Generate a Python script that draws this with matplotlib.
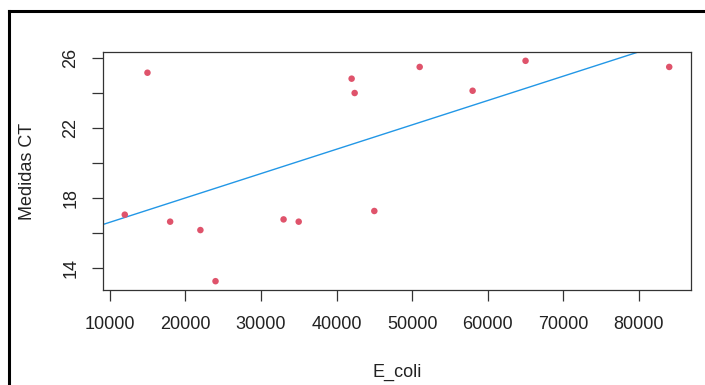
import matplotlib
matplotlib.use("Agg")
import matplotlib.pyplot as plt
from matplotlib.lines import Line2D

# Data
e_coli = [12000, 15000, 18000, 22000, 24000, 33000, 35000,
          42000, 42400, 45000, 51000, 58000, 65000, 84000]
medidas_ct = [17.06, 25.17, 16.66, 16.18, 13.26, 16.79, 16.66,
              24.83, 24.01, 17.27, 25.50, 24.14, 25.85, 25.50]

# fitted line (abline)
intercept = 15.23
slope = 1.392e-4

x_ticks = [10000, 20000, 30000, 40000, 50000, 60000, 70000, 80000]
y_ticks = [14, 16, 18, 20, 22, 24, 26]
y_tick_labels = ["14", "", "18", "", "22", "", "26"]

plt.rcParams['font.family'] = ['Liberation Sans', 'DejaVu Sans']

fig = plt.figure(figsize=(7.05, 3.85), dpi=100)
ax = fig.add_axes([103 / 705, 1 - 290 / 385, 588 / 705, 238 / 385])

ax.scatter(e_coli, medidas_ct, s=22, color="#DF536B", edgecolors="none", zorder=3)
ax.axline((0, intercept), slope=slope, color="#2297E6", linewidth=1.0)


# R style axis extension: 4% on each side
def r_lims(vals):
    lo, hi = min(vals), max(vals)
    ext = (hi - lo) * 0.04
    return lo - ext, hi + ext


ax.set_xlim(*r_lims(e_coli))
ax.set_ylim(*r_lims(medidas_ct))

ax.set_xticks(x_ticks)
ax.set_xticklabels([str(v) for v in x_ticks])
ax.set_yticks(y_ticks)
ax.set_yticklabels(y_tick_labels, rotation=90, va="center")

ax.tick_params(axis="both", length=8, width=0.9, color="#333333",
               labelsize=13, labelcolor="#222222", direction="out")
ax.tick_params(axis="x", pad=11)
ax.tick_params(axis="y", pad=9)

for sp in ax.spines.values():
    sp.set_linewidth(0.9)
    sp.set_color("#333333")

ax.set_xlabel("E_coli", fontsize=13, color="#222222", labelpad=22)
ax.set_ylabel("Medidas CT", fontsize=13, color="#222222", labelpad=19)

# outer black frame (left and top edges visible)
fig.add_artist(Line2D([9 / 705, 9 / 705], [0, 1 - 11 / 385],
                      transform=fig.transFigure, color="black", linewidth=2.2))
fig.add_artist(Line2D([9 / 705, 1], [1 - 11 / 385, 1 - 11 / 385],
                      transform=fig.transFigure, color="black", linewidth=2.2))

fig.savefig("out.png", dpi=100)
